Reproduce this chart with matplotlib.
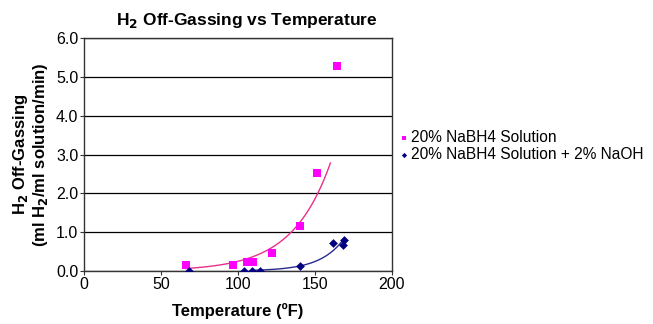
import numpy as np
import matplotlib
matplotlib.use("Agg")
import matplotlib.pyplot as plt

# data
temp_a = [66, 97, 106, 110, 122, 140, 151, 164]
gas_a = [0.15, 0.15, 0.22, 0.22, 0.47, 1.15, 2.52, 5.28]
temp_b = [68, 104, 109, 114, 140, 162, 168, 169]
gas_b = [0.0, 0.0, 0.0, 0.0, 0.12, 0.71, 0.66, 0.80]

label_a = "20% NaBH4 Solution"
label_b = "20% NaBH4 Solution + 2% NaOH"

plt.rcParams["font.family"] = ["Liberation Sans", "DejaVu Sans"]

fig = plt.figure(figsize=(6.53, 3.24), dpi=100)
ax = fig.add_axes([0.1286, 0.1636, 0.4717, 0.719])

# exponential trendlines (fit on log values, like a spreadsheet does)
xa = np.array(temp_a, float)
ya = np.array(gas_a, float)
ka, ca = np.polyfit(xa, np.log(ya), 1)
xs = np.linspace(xa.min(), 160, 200)
ax.plot(xs, np.exp(ca + ka * xs), color="#e8308a", lw=1.0, zorder=2)

xb = np.array(temp_b, float)
yb = np.array(gas_b, float)
mask = yb > 0
kb, cb = np.polyfit(xb[mask], np.log(yb[mask]), 1)
xs2 = np.linspace(110, 168, 200)
ax.plot(xs2, np.exp(cb + kb * xs2), color="#2a2a90", lw=1.0, zorder=2)

ax.scatter(temp_a, gas_a, marker="s", s=34, color="#ff00ff", label=label_a, zorder=3, linewidths=0)
ax.scatter(temp_b, gas_b, marker="D", s=20, color="#000080", label=label_b, zorder=4, linewidths=0)

ax.set_xlim(0, 200)
ax.set_ylim(0, 6)
ax.set_xticks(np.arange(0, 201, 50))
ax.set_yticks(np.arange(0, 6.1, 1))
ax.set_yticklabels([f"{v:.1f}" for v in np.arange(0, 6.1, 1)])
ax.tick_params(labelsize=11.5, length=3, width=0.8, color="#333333", pad=1)
ax.yaxis.grid(True, color="black", lw=0.9)
ax.set_axisbelow(True)
for s in ax.spines.values():
    s.set_color("#333333")
    s.set_linewidth(1.0)

ax.text(0.53, 1.075, "H$_\\mathbf{2}$ Off-Gassing vs Temperature", transform=ax.transAxes,
        ha="center", va="center", fontsize=12.5, fontweight="bold")
ax.set_xlabel("Temperature (ºF)", fontsize=12, fontweight="bold", labelpad=8)
ax.set_ylabel("H$_\\mathbf{2}$ Off-Gassing\n(ml H$_\\mathbf{2}$/ml solution/min)", fontsize=12,
              fontweight="bold", labelpad=4, linespacing=1.1)

ax.legend(loc="center left", bbox_to_anchor=(0.995, 0.535), frameon=False, fontsize=11.2,
          handletextpad=0.0, handlelength=0.8, borderaxespad=0.1, labelspacing=0.12,
          markerscale=0.6)

fig.savefig("out.png", dpi=100)
